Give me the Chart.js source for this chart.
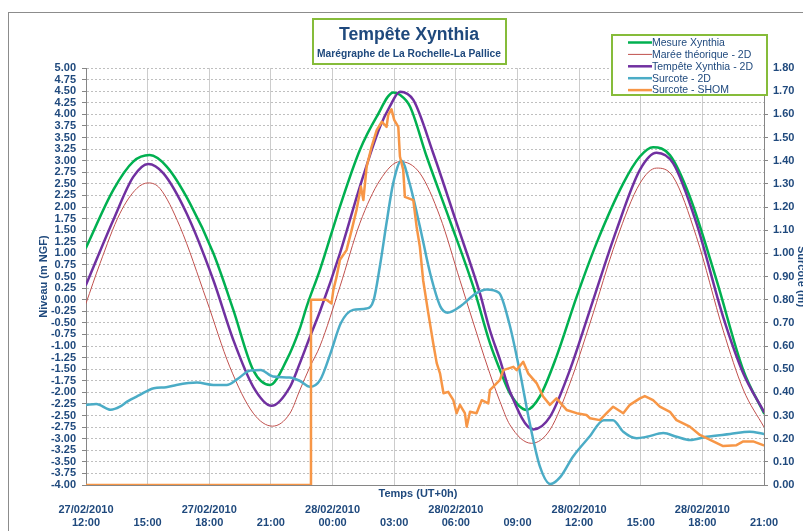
<!DOCTYPE html>
<html lang="fr">
<head>
<meta charset="utf-8">
<title>Tempête Xynthia</title>
<script src="https://cdn.jsdelivr.net/npm/chart.js@4.4.1/dist/chart.umd.min.js"></script>
<style>
  html, body { margin: 0; padding: 0; background: #fff; }
  #wrap { position: relative; width: 803px; height: 531px; }
</style>
</head>
<body>
<div id="wrap"><canvas id="xynthiaChart" width="803" height="531"></canvas></div>
<script>
// Axe des temps : heures écoulées depuis le 27/02/2010 12:00 (UT+0h)
const tickTimes = ['12:00', '15:00', '18:00', '21:00', '00:00', '03:00', '06:00', '09:00', '12:00', '15:00', '18:00', '21:00'];
const tickDates = ['27/02/2010', '', '27/02/2010', '', '28/02/2010', '', '28/02/2010', '', '28/02/2010', '', '28/02/2010', ''];

// Niveau mesuré (m NGF)
const mesureHours = [0, 1.33, 2.3, 3.1, 3.93, 5.06, 6.2, 7.17, 8.14, 8.95, 9.77, 10.41, 10.74, 11.39, 12.36, 13.33, 14.15, 14.96, 15.28, 15.77, 16.58, 17.7, 18.85, 19.66, 20.15, 20.63, 21.44, 22.09, 22.9, 23.88, 24.85, 26.15, 26.96, 27.6, 28.42, 29.39, 30.69, 31.99, 33];
const mesureNiveau = [1.12, 2.37, 2.98, 3.12, 2.87, 2.08, 1.0, -0.22, -1.52, -1.84, -1.3, -0.62, -0.15, 0.65, 2.01, 3.23, 3.95, 4.47, 4.42, 4.17, 3.09, 1.72, 0.28, -0.94, -1.52, -2.02, -2.38, -2.09, -1.23, 0.06, 1.22, 2.51, 3.09, 3.29, 3.12, 2.22, 0.42, -1.52, -2.45];

// Marée théorique - 2D (m NGF)
const mareeHours = [0, 0.68, 1.65, 2.47, 3.03, 3.6, 4.57, 5.87, 7.0, 8.14, 9.08, 9.93, 10.41, 10.9, 11.39, 12.36, 13.33, 14.31, 15.28, 16.25, 17.23, 18.2, 19.17, 19.66, 20.15, 20.63, 21.68, 22.58, 23.55, 24.53, 25.82, 26.96, 27.77, 28.58, 29.71, 31.01, 32.0, 33];
const mareeNiveau = [-0.08, 0.78, 1.86, 2.4, 2.52, 2.4, 1.58, -0.01, -1.45, -2.45, -2.73, -2.45, -1.95, -1.45, -1.0, 0.28, 1.65, 2.58, 2.98, 2.73, 1.79, 0.42, -0.94, -1.6, -2.2, -2.7, -3.1, -2.81, -1.81, -0.51, 1.29, 2.51, 2.84, 2.65, 1.36, -0.66, -1.95, -2.75];

// Tempête Xynthia - 2D (m NGF)
const tempeteHours = [0, 1.33, 2.3, 3.03, 3.76, 4.9, 6.2, 7.17, 8.14, 9.03, 9.93, 10.41, 10.9, 11.39, 12.36, 13.33, 14.31, 14.79, 15.28, 15.93, 16.9, 18.04, 19.17, 19.66, 20.15, 20.63, 21.77, 22.58, 23.55, 24.53, 25.82, 26.96, 27.77, 28.58, 29.71, 31.01, 32.0, 33];
const tempeteNiveau = [0.32, 1.72, 2.65, 2.93, 2.73, 1.86, 0.42, -0.87, -1.88, -2.29, -1.88, -1.37, -0.8, -0.25, 1.0, 2.44, 3.73, 4.17, 4.49, 4.31, 3.16, 1.65, 0.14, -0.66, -1.3, -1.98, -2.8, -2.53, -1.52, -0.22, 1.5, 2.8, 3.17, 2.94, 1.65, -0.37, -1.6, -2.42];

// Surcote - 2D (m)
const surcote2dHours = [0, 0.5, 1.2, 1.65, 2.0, 2.6, 3.3, 3.9, 4.4, 5.4, 6.2, 6.85, 7.35, 8.0, 8.5, 9.1, 9.9, 10.4, 10.9, 11.4, 11.9, 12.4, 13.0, 13.65, 14.0, 14.3, 14.65, 14.95, 15.35, 15.75, 16.25, 16.75, 17.25, 17.6, 18.2, 19.0, 19.5, 20.1, 20.6, 21.1, 21.6, 22.1, 22.6, 23.1, 23.7, 24.5, 25.2, 25.65, 26.15, 26.8, 27.3, 28.1, 28.75, 29.4, 30.2, 31.35, 32.3, 33];
const surcote2d = [0.345, 0.35, 0.325, 0.338, 0.36, 0.388, 0.418, 0.422, 0.432, 0.442, 0.432, 0.432, 0.456, 0.494, 0.496, 0.468, 0.464, 0.45, 0.424, 0.454, 0.568, 0.698, 0.756, 0.762, 0.798, 0.942, 1.144, 1.302, 1.40, 1.302, 1.116, 0.914, 0.77, 0.744, 0.77, 0.828, 0.844, 0.83, 0.698, 0.496, 0.266, 0.078, 0.004, 0.036, 0.122, 0.208, 0.28, 0.28, 0.23, 0.202, 0.208, 0.224, 0.208, 0.194, 0.208, 0.22, 0.23, 0.22];

// Surcote - SHOM (m), pas de données avant 28/02 ~23:00
const surcoteShomHours = [0, 10.95, 10.95, 11.7, 11.95, 12.04, 12.2, 12.36, 12.68, 12.93, 13.17, 13.38, 13.5, 13.66, 13.9, 14.15, 14.4, 14.63, 14.71, 14.87, 15.0, 15.2, 15.28, 15.44, 15.52, 15.93, 16.09, 16.25, 16.41, 16.66, 16.9, 17.07, 17.23, 17.4, 17.63, 17.88, 18.04, 18.2, 18.44, 18.53, 18.69, 19.01, 19.26, 19.58, 19.66, 20.15, 20.31, 20.8, 20.96, 21.28, 21.52, 21.93, 22.25, 22.58, 22.9, 23.39, 23.88, 24.36, 24.53, 25.01, 25.34, 25.66, 26.15, 26.47, 26.96, 27.2, 27.6, 27.93, 28.42, 28.74, 29.39, 29.88, 30.53, 31.01, 31.66, 31.99, 32.47, 32.96];
const surcoteShom = [0, 0, 0.8, 0.8, 0.784, 0.842, 0.9, 0.972, 1.014, 1.1, 1.188, 1.288, 1.23, 1.374, 1.46, 1.532, 1.568, 1.546, 1.598, 1.622, 1.576, 1.546, 1.418, 1.36, 1.244, 1.23, 1.116, 1.028, 0.884, 0.742, 0.612, 0.526, 0.482, 0.396, 0.402, 0.366, 0.31, 0.346, 0.31, 0.252, 0.316, 0.31, 0.366, 0.352, 0.41, 0.454, 0.496, 0.51, 0.496, 0.532, 0.482, 0.44, 0.382, 0.346, 0.374, 0.324, 0.31, 0.302, 0.288, 0.28, 0.31, 0.338, 0.31, 0.346, 0.374, 0.384, 0.366, 0.338, 0.316, 0.28, 0.252, 0.216, 0.188, 0.168, 0.172, 0.188, 0.188, 0.172];

const textBlue = '#1f497d';
const frameGreen = '#86bc3a';
const axisGrey = '#868686';
const tickFont = { family: "'Liberation Sans', Arial, sans-serif", size: 11, weight: 'bold', lineHeight: 1.2 };

function toPoints(hours, values) {
    return hours.map((h, i) => ({ x: h, y: values[i] }));
}

// Cadre, titre, légende et titres d'axes
const decorations = {
    id: 'decorations',
    beforeDraw(chart) {
        const ctx = chart.ctx;
        ctx.save();
        ctx.strokeStyle = '#8c8c8c';
        ctx.lineWidth = 1;
        ctx.strokeRect(8.5, 12.5, 900, 600);
        ctx.restore();
    },
    afterDraw(chart) {
        const ctx = chart.ctx;
        const area = chart.chartArea;
        ctx.save();

        // Titre
        ctx.fillStyle = '#fff';
        ctx.fillRect(313, 19, 193, 45);
        ctx.strokeStyle = frameGreen;
        ctx.lineWidth = 2;
        ctx.strokeRect(313, 19, 193, 45);
        ctx.fillStyle = textBlue;
        ctx.textAlign = 'center';
        ctx.textBaseline = 'middle';
        ctx.font = "bold 18px 'Liberation Sans', Arial, sans-serif";
        ctx.fillText('Tempête Xynthia', 409, 35, 140);
        ctx.font = "bold 11px 'Liberation Sans', Arial, sans-serif";
        ctx.fillText('Marégraphe de La Rochelle-La Pallice', 409, 54, 184);

        // Légende
        ctx.fillStyle = '#fff';
        ctx.fillRect(612, 35, 155, 60);
        ctx.strokeStyle = frameGreen;
        ctx.strokeRect(612, 35, 155, 60);
        ctx.textAlign = 'left';
        ctx.font = "10.5px 'Liberation Sans', Arial, sans-serif";
        chart.data.datasets.forEach((ds, i) => {
            const y = 42.5 + i * 11.9;
            ctx.strokeStyle = ds.borderColor;
            ctx.lineWidth = ds.borderWidth;
            ctx.beginPath();
            ctx.moveTo(628, y);
            ctx.lineTo(652, y);
            ctx.stroke();
            ctx.fillStyle = textBlue;
            ctx.fillText(ds.label, 652, y + 0.5);
        });

        // Titres d'axes
        ctx.font = "bold 11px 'Liberation Sans', Arial, sans-serif";
        ctx.textAlign = 'center';
        ctx.fillText('Temps (UT+0h)', 418, 494);

        const midY = (area.top + area.bottom) / 2;
        ctx.save();
        ctx.translate(44, midY);
        ctx.rotate(-Math.PI / 2);
        ctx.fillText('Niveau (m NGF)', 0, 0);
        ctx.restore();

        ctx.save();
        ctx.translate(801, midY);
        ctx.rotate(Math.PI / 2);
        ctx.fillText('Surcote (m)', 0, 0);
        ctx.restore();

        ctx.restore();
    }
};

new Chart(document.getElementById('xynthiaChart').getContext('2d'), {
    type: 'line',
    data: {
        datasets: [
            { label: 'Mesure Xynthia', data: toPoints(mesureHours, mesureNiveau), borderColor: '#00b050', borderWidth: 2.5, yAxisID: 'y', order: 5 },
            { label: 'Marée théorique - 2D', data: toPoints(mareeHours, mareeNiveau), borderColor: '#c0504d', borderWidth: 1, yAxisID: 'y', order: 4 },
            { label: 'Tempête Xynthia - 2D', data: toPoints(tempeteHours, tempeteNiveau), borderColor: '#7030a0', borderWidth: 2.5, yAxisID: 'y', order: 3 },
            { label: 'Surcote - 2D', data: toPoints(surcote2dHours, surcote2d), borderColor: '#4bacc6', borderWidth: 2.5, yAxisID: 'y1', order: 2 },
            { label: 'Surcote - SHOM', data: toPoints(surcoteShomHours, surcoteShom), borderColor: '#f79646', borderWidth: 2.5, yAxisID: 'y1', order: 1, cubicInterpolationMode: 'default', tension: 0 }
        ]
    },
    options: {
        responsive: false,
        animation: false,
        events: [],
        layout: { padding: { top: 68, left: 0, right: 0, bottom: 0 } },
        elements: {
            point: { radius: 0 },
            line: { fill: false, cubicInterpolationMode: 'monotone', borderCapStyle: 'round', borderJoinStyle: 'round' }
        },
        plugins: {
            legend: { display: false },
            tooltip: { enabled: false }
        },
        scales: {
            x: {
                type: 'linear',
                min: 0,
                max: 33,
                afterFit: (scale) => { scale.height = 46; },
                ticks: {
                    stepSize: 3,
                    autoSkip: false,
                    maxRotation: 0,
                    padding: 18,
                    color: textBlue,
                    font: tickFont,
                    callback: (value, index) => [tickDates[index], tickTimes[index]]
                },
                grid: { color: '#cccccc', drawTicks: false },
                border: { color: axisGrey }
            },
            y: {
                position: 'left',
                min: -4,
                max: 5,
                afterFit: (scale) => { scale.width = 86; },
                ticks: {
                    stepSize: 0.25,
                    autoSkip: false,
                    padding: 6,
                    color: textBlue,
                    font: tickFont,
                    callback: (value) => value.toFixed(2)
                },
                grid: { color: '#bfbfbf', tickColor: axisGrey, tickLength: 4, tickBorderDash: [] },
                border: { color: axisGrey, dash: [2, 2] }
            },
            y1: {
                position: 'right',
                min: 0,
                max: 1.8,
                afterFit: (scale) => { scale.width = 39; },
                ticks: {
                    stepSize: 0.1,
                    autoSkip: false,
                    padding: 5,
                    color: textBlue,
                    font: tickFont,
                    callback: (value) => value.toFixed(2)
                },
                grid: { drawOnChartArea: false, tickColor: axisGrey, tickLength: 4 },
                border: { color: axisGrey }
            }
        }
    },
    plugins: [decorations]
});
</script>
</body>
</html>
